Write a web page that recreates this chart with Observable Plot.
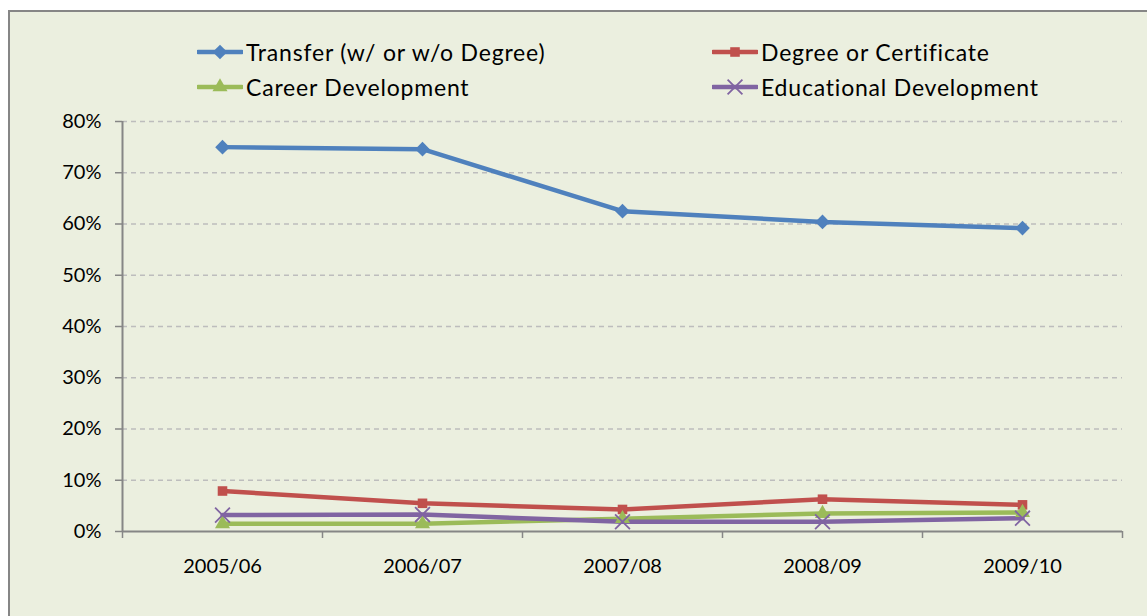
<!DOCTYPE html>
<html>
<head>
<meta charset="utf-8">
<script src="https://cdn.jsdelivr.net/npm/d3@7"></script>
<script src="https://cdn.jsdelivr.net/npm/@observablehq/plot@0.6"></script>
<style>
  html, body { margin: 0; padding: 0; background: #ffffff; overflow: hidden; }
  #wrap { position: relative; width: 1147px; height: 616px; font-family: Lato, "Open Sans", sans-serif; }
  #box { position: absolute; left: 8px; top: 10px; width: 1160px; height: 620px;
         background: #EBEFDF; border-left: 2px solid #868686; border-top: 2px solid #868686; }
  #chart { position: absolute; left: 0; top: 0; }
  .lg { position: absolute; display: flex; align-items: center; font-size: 23px; letter-spacing: 0.8px; color: #000; white-space: nowrap; }
  .lg svg { margin-right: 3px; }
</style>
</head>
<body>
<div id="wrap">
  <div id="box"></div>
  <div id="chart"></div>
</div>
<script>
// ---- data ----
const years = ["2005/06", "2006/07", "2007/08", "2008/09", "2009/10"];
const seriesNames = ["Transfer (w/ or w/o Degree)", "Degree or Certificate", "Career Development", "Educational Development"];
const transfer    = [0.750, 0.746, 0.625, 0.604, 0.592];
const degree      = [0.079, 0.055, 0.043, 0.063, 0.052];
const career      = [0.015, 0.015, 0.025, 0.035, 0.037];
const educational = [0.032, 0.033, 0.019, 0.019, 0.026];
const yTicks = [0, 0.1, 0.2, 0.3, 0.4, 0.5, 0.6, 0.7, 0.8];

// ---- styles ----
const colors  = ["#4F81BD", "#C0504D", "#9BBB59", "#8064A2"];
const symbols = ["diamond2", "square", "triangle", "times"];
const symR    = [6.6, 5.4, 5.6, 6.8];
const values  = [transfer, degree, career, educational];

const series = seriesNames.map((name, k) => ({
  name, color: colors[k], symbol: symbols[k], r: symR[k],
  rows: values[k].map((v, i) => ({ i, v, year: years[i] }))
}));

const n = years.length;
const boundaries = d3.range(n + 1).map(i => i - 0.5);
const axisColor = "#868686";

const marks = [
  Plot.gridY(yTicks.filter(t => t > 0), { stroke: "#BDBDBD", strokeOpacity: 1, strokeWidth: 1.3, strokeDasharray: "5,4" }),
  Plot.axisY(yTicks, { label: null, tickSize: 7, tickPadding: 14, tickFormat: d3.format(".0%"), stroke: axisColor, strokeWidth: 1.5, fill: "#000", fontSize: 20 }),
  Plot.axisX(boundaries, { label: null, tickSize: 7, tickFormat: () => "", stroke: axisColor, strokeWidth: 1.5 }),
  Plot.axisX(d3.range(n), { label: null, tickSize: 0, tickPadding: 27, tickFormat: i => years[i], fill: "#000", fontSize: 20 }),
  Plot.ruleX([-0.5], { stroke: axisColor, strokeWidth: 2 }),
  Plot.ruleY([0], { stroke: axisColor, strokeWidth: 2 })
];
for (const s of series) {
  marks.push(Plot.line(s.rows, { x: "i", y: "v", stroke: s.color, strokeWidth: 4.5, strokeLinejoin: "round" }));
}
for (const s of series) {
  if (s.symbol === "times") {
    marks.push(Plot.dot(s.rows, { x: "i", y: "v", symbol: s.symbol, r: s.r, stroke: s.color, strokeWidth: 1.8, fill: "none" }));
  } else {
    marks.push(Plot.dot(s.rows, { x: "i", y: "v", symbol: s.symbol, r: s.r, fill: s.color, stroke: "none" }));
  }
}

const chart = Plot.plot({
  width: 1147, height: 616,
  marginLeft: 122, marginRight: 25, marginTop: 121, marginBottom: 85,
  x: { type: "linear", domain: [-0.5, n - 0.5], axis: null, label: null },
  y: { domain: [0, 0.8], axis: null, label: null },
  style: { background: "transparent", fontFamily: "Lato, 'Open Sans', sans-serif", color: "#000", overflow: "visible" },
  marks
});
document.getElementById("chart").appendChild(chart);

// ---- legend ----
const legendPos = [
  { left: 197, top: 52 }, { left: 712, top: 52 },
  { left: 197, top: 87 }, { left: 712, top: 87 }
];
const wrap = document.getElementById("wrap");
series.forEach((s, k) => {
  const div = document.createElement("div");
  div.className = "lg";
  div.style.left = legendPos[k].left + "px";
  div.style.top = (legendPos[k].top - 15) + "px";
  div.style.height = "30px";
  const sw = d3.create("svg").attr("width", 46).attr("height", 20);
  sw.append("line").attr("x1", 1).attr("x2", 45).attr("y1", 10).attr("y2", 10)
    .attr("stroke", s.color).attr("stroke-width", 4.5).attr("stroke-linecap", "round");
  const symMap = { diamond2: d3.symbolDiamond2, square: d3.symbolSquare, triangle: d3.symbolTriangle, times: d3.symbolTimes };
  const path = d3.symbol(symMap[s.symbol], Math.PI * s.r * s.r)();
  const p = sw.append("path").attr("d", path).attr("transform", "translate(23,10)");
  if (s.symbol === "times") p.attr("fill", "none").attr("stroke", s.color).attr("stroke-width", 1.8);
  else p.attr("fill", s.color);
  div.appendChild(sw.node());
  const t = document.createElement("span");
  t.textContent = s.name;
  div.appendChild(t);
  wrap.appendChild(div);
});
</script>
</body>
</html>
